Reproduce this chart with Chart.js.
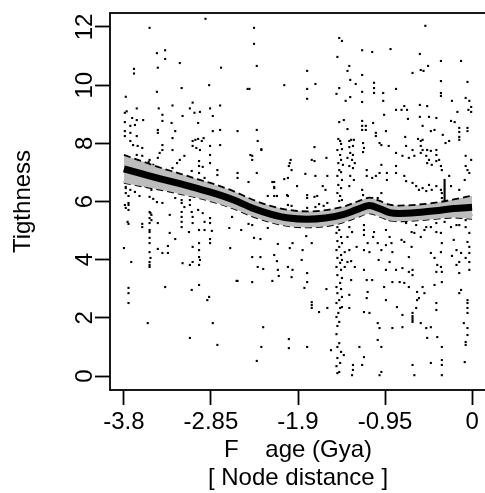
<!DOCTYPE html>
<html>
<head>
<meta charset="utf-8">
<script src="https://cdn.jsdelivr.net/npm/chart.js@4"></script>
<style>
  html, body { margin: 0; padding: 0; background: #fff; overflow: hidden; }
</style>
</head>
<body>
<canvas id="tightChart" width="490" height="493"></canvas>
<script>
// axis ranges (R style 4% padding) and ticks
const xRange = [-3.952, 0.152];
const yRange = [-0.48, 12.48];
const xTicks = [-3.8, -2.85, -1.9, -0.95, 0];
const xTickLabels = ["-3.8", "-2.85", "-1.9", "-0.95", "0"];
const yTicks = [0, 2, 4, 6, 8, 10, 12];

// smoothed fit and its confidence band
const smoothX = [-3.8, -3.6, -3.4, -3.2, -3.0, -2.8, -2.6, -2.4, -2.2, -2.0, -1.8, -1.6, -1.4, -1.25, -1.12, -1.0, -0.9, -0.8, -0.6, -0.4, -0.2, 0];
const smoothY = [7.12, 6.95, 6.78, 6.62, 6.45, 6.27, 6.05, 5.78, 5.57, 5.43, 5.39, 5.43, 5.56, 5.73, 5.86, 5.74, 5.62, 5.59, 5.62, 5.68, 5.76, 5.80];
const bandHigh = [7.60, 7.38, 7.16, 6.97, 6.77, 6.58, 6.35, 6.07, 5.85, 5.71, 5.66, 5.70, 5.83, 6.00, 6.13, 6.01, 5.89, 5.86, 5.89, 5.96, 6.07, 6.20];
const bandLow = [6.64, 6.52, 6.40, 6.27, 6.13, 5.96, 5.75, 5.49, 5.29, 5.15, 5.11, 5.15, 5.29, 5.46, 5.59, 5.47, 5.35, 5.32, 5.35, 5.40, 5.45, 5.40];

// scatter points [age, tightness]
const earlyPts = [
  [-2.91,12.28],[-3.52,11.97],[-3.44,11.10],[-3.35,11.20],[-3.35,10.90],[-3.69,10.56],[-3.69,10.40],[-3.43,10.60],
  [-3.19,10.76],[-2.74,10.60],[-2.87,10.00],[-3.17,9.90],[-3.44,9.77],[-3.78,9.60],[-3.05,9.40],[-2.75,9.30],
  [-3.27,9.30],[-3.42,9.20],[-3.66,9.20],[-3.77,9.10],[-3.79,9.05],[-3.08,9.20],[-2.97,9.08],[-2.86,9.20],
  [-3.38,8.98],[-3.16,8.94],[-3.03,9.05],[-2.83,8.94],[-3.71,8.87],[-3.66,8.80],[-3.59,8.80],[-3.79,8.73],
  [-3.38,8.77],[-3.28,8.70],[-2.99,8.70],[-3.73,8.60],[-3.68,8.63],[-3.43,8.46],[-3.43,8.36],[-3.24,8.42],
  [-2.75,8.46],[-2.83,8.42],[-3.79,8.42],[-3.73,8.36],[-3.79,8.25],[-3.66,8.25],[-3.27,8.18],[-3.05,8.08],
  [-3.02,8.12],[-2.99,8.15],[-2.95,8.08],[-2.93,8.18],[-3.73,8.08],[-3.70,7.94],[-3.65,7.91],[-3.60,7.84],
  [-3.38,7.94],[-3.38,7.77],[-3.05,7.91],[-3.01,7.84],[-2.97,7.77],[-2.86,7.91],[-2.75,7.94],[-3.27,7.77],
  [-3.41,7.67],[-3.66,7.60],[-3.60,7.57],[-3.52,7.43],[-3.43,7.50],[-3.19,7.43],[-3.14,7.57],[-3.22,7.32],
  [-2.98,7.39],[-2.98,7.22],[-2.94,7.19],[-2.86,7.60],[-2.86,7.32],[-2.78,7.08],[-2.78,6.91],[-3.53,7.36],
  [-3.48,7.26],[-3.06,7.05],[-2.98,6.98],[-2.92,6.81],[-3.35,7.08],[-3.27,7.15],[-3.79,6.67],[-3.73,6.70],
  [-3.59,6.70],[-3.78,6.46],[-3.73,6.40],[-3.68,6.33],[-3.57,6.53],[-3.50,6.40],[-2.97,6.64],[-2.86,6.57],
  [-3.75,6.19],[-3.63,6.19],[-3.52,6.16],[-3.48,6.09],[-3.24,6.12],[-3.17,6.05],[-3.08,6.05],[-3.78,6.50],
  [-3.78,6.29],[-3.75,5.95],[-3.78,5.78],[-3.76,5.30],[-3.79,5.88],[-3.75,5.88],[-3.75,5.71],[-3.75,5.23],
  [-3.80,4.40],[-3.72,3.92],[-3.75,3.03],[-3.75,2.85],[-3.75,2.51],[-3.60,5.23],[-3.60,5.12],[-3.52,5.64],
  [-3.51,5.60],[-3.50,5.54],[-3.52,5.43],[-3.50,5.36],[-3.52,5.26],[-3.52,5.02],[-3.52,4.95],[-3.52,4.75],
  [-3.52,4.57],[-3.52,4.26],[-3.51,4.06],[-3.52,3.92],[-3.52,3.82],[-3.52,3.75],[-3.54,1.82],[-3.44,5.98],
  [-3.38,5.95],[-3.43,5.26],[-3.43,4.37],[-3.38,4.23],[-3.32,4.23],[-3.32,4.47],[-3.30,5.54],[-3.30,4.92],
  [-3.24,4.71],[-3.35,3.06],[-3.17,5.95],[-3.17,5.64],[-3.17,5.47],[-3.17,5.30],[-3.17,5.12],[-3.14,5.81],
  [-3.08,5.88],[-3.06,5.64],[-3.05,5.47],[-3.05,5.26],[-3.16,3.88],[-3.08,3.82],[-3.05,3.92],[-3.09,4.95],
  [-3.05,4.44],[-3.06,2.96],[-3.08,1.31],[-2.99,5.71],[-2.94,5.60],[-2.98,5.02],[-2.98,4.57],[-2.98,4.33],
  [-2.98,4.09],[-2.97,3.99],[-2.98,3.82],[-2.98,3.13],[-2.92,5.30],[-2.86,5.43],[-2.86,5.26],[-2.92,5.02],
  [-2.84,4.99],[-2.86,4.71],[-2.86,4.57],[-2.87,2.72],[-2.89,2.61],[-2.83,1.82],[-2.78,1.07],[-2.62,5.47],
  [-2.65,5.09],[-2.64,4.40],[-2.57,3.27],[-2.56,8.42],[-2.56,6.98],[-2.56,6.81],[-2.52,5.02],[-2.56,3.27]
];
const midPts = [
  [-2.38,11.97],[-2.38,11.42],[-2.35,10.66],[-2.43,9.87],[-2.45,9.87],[-2.05,10.00],[-1.80,10.49],[-1.80,9.87],
  [-1.71,10.04],[-1.80,9.53],[-2.35,8.46],[-2.34,8.08],[-2.30,7.77],[-2.42,7.60],[-2.40,7.43],[-2.35,6.98],
  [-2.44,6.67],[-1.72,7.87],[-1.98,7.43],[-2.00,7.22],[-1.75,7.43],[-1.72,7.39],[-1.59,7.50],[-1.82,6.95],
  [-1.71,6.88],[-1.58,6.88],[-2.01,6.81],[-2.05,6.77],[-1.91,6.53],[-2.16,6.67],[-2.16,6.46],[-1.63,6.53],
  [-1.60,6.40],[-2.23,6.19],[-2.16,6.19],[-2.13,6.19],[-2.02,6.22],[-2.01,6.19],[-1.80,6.22],[-1.80,6.12],
  [-1.72,6.16],[-1.69,6.19],[-2.40,7.57],[-2.30,7.80],[-1.99,7.32],[-1.97,7.08],[-2.18,6.67],[-2.16,6.50],
  [-2.01,5.88],[-1.97,5.85],[-1.80,5.78],[-1.71,5.81],[-1.67,5.91],[-1.62,5.85],[-1.58,5.95],
  [-2.44,5.23],[-2.40,5.19],[-2.23,5.09],[-2.38,4.75],[-2.31,4.71],[-2.12,4.54],[-1.99,4.40],[-1.96,4.57],
  [-2.40,4.09],[-2.31,4.09],[-2.16,4.16],[-2.13,3.95],[-1.85,4.33],[-1.75,4.57],[-1.81,4.81],[-1.86,3.99],
  [-2.34,3.75],[-2.28,3.68],[-2.12,3.65],[-2.01,3.75],[-1.96,3.65],[-1.97,3.40],[-1.80,3.54],[-1.80,3.23],
  [-2.40,3.23],[-2.18,3.27],[-2.11,3.44],[-1.83,3.03],[-1.59,2.99],[-1.75,2.54],[-1.75,2.44],[-1.75,2.34],
  [-1.67,2.20],[-1.58,2.34],[-2.28,1.68],[-2.00,1.27],[-2.00,0.96],[-2.30,1.00],[-1.80,1.00],[-2.35,0.52]
];
const latePts = [
  [-1.45,11.62],[-1.42,11.52],[-1.47,10.97],[-1.34,10.66],[-1.36,10.49],[-1.33,10.18],[-1.27,10.04],[-1.45,9.90],
  [-1.48,9.70],[-1.33,9.59],[-1.38,9.46],[-1.45,8.73],[-1.40,8.80],[-1.36,8.49],[-1.46,8.15],[-1.44,8.08],
  [-1.43,7.98],[-1.47,7.77],[-1.42,7.80],[-1.44,7.60],[-1.43,7.43],[-1.46,7.32],[-1.41,7.26],[-1.45,7.08],
  [-1.43,7.01],[-1.47,6.88],[-1.42,6.74],[-1.46,6.57],[-1.43,6.46],[-1.47,6.29],[-1.44,6.19],[-1.42,6.05],
  [-1.45,6.02],[-1.34,8.08],[-1.32,8.12],[-1.29,8.12],[-1.34,7.87],[-1.30,7.91],[-1.33,7.67],[-1.30,7.60],
  [-1.36,7.50],[-1.31,7.43],[-1.28,7.32],[-1.34,7.22],[-1.30,7.15],[-1.33,6.88],[-1.29,6.74],[-1.34,6.53],
  [-1.47,5.12],[-1.45,5.02],[-1.48,4.92],[-1.43,4.78],[-1.47,4.64],[-1.42,4.57],[-1.45,4.44],[-1.48,4.33],
  [-1.39,4.26],[-1.43,4.16],[-1.47,4.06],[-1.42,3.99],[-1.44,3.89],[-1.48,3.75],[-1.39,3.75],[-1.43,3.65],
  [-1.47,3.47],[-1.42,3.37],[-1.44,3.20],[-1.48,3.06],[-1.43,2.99],[-1.47,2.85],[-1.42,2.72],[-1.45,2.61],
  [-1.48,2.51],[-1.44,2.34],[-1.42,2.37],[-1.46,2.17],[-1.48,2.03],[-1.45,1.86],[-1.47,1.72],[-1.48,1.44],
  [-1.45,1.13],[-1.47,1.00],[-1.54,0.89],[-1.43,0.83],[-1.40,0.72],[-1.47,0.62],[-1.44,0.45],[-1.48,0.34],
  [-1.45,0.14],[-1.47,0.10],[-1.34,5.12],[-1.31,4.95],[-1.36,4.78],[-1.26,4.44],[-1.34,4.33],[-1.32,3.95],
  [-1.36,3.92],[-1.28,3.75],[-1.32,3.30],[-1.34,2.79],[-1.34,2.34],[-1.30,0.38],[-1.30,0.21],[-1.31,0.03],
  [-0.51,12.04],[-1.09,11.14],[-0.89,11.24],[-0.57,11.07],[-1.20,11.20],[-1.20,10.35],[-0.65,10.42],[-0.56,10.52],
  [-0.53,10.49],[-0.48,10.66],[-0.34,10.83],[-0.12,10.83],[-1.07,10.08],[-1.07,9.90],[-1.07,9.73],[-0.97,9.73],
  [-0.83,9.87],[-0.34,10.14],[-0.34,9.73],[-0.34,9.63],[-0.05,10.11],[-1.20,9.77],[-1.20,9.42],[-0.97,9.46],
  [-0.74,9.28],[-0.83,9.15],[-0.77,9.15],[-0.71,9.15],[-0.57,9.32],[-0.49,9.28],[-0.22,9.46],[-0.07,9.56],
  [-0.03,9.46],[-0.01,9.25],[-0.04,9.15],[-0.01,9.08],[-0.16,9.08],[-0.96,8.98],[-0.70,8.84],[-0.57,8.91],
  [-0.47,8.91],[-0.39,8.87],[-0.23,8.77],[-0.19,8.73],[-1.20,8.77],[-1.20,8.60],[-1.20,8.46],[-1.16,8.60],
  [-1.16,8.46],[-1.08,8.70],[-1.05,8.36],[-1.05,8.25],[-0.94,8.42],[-0.54,8.60],[-0.45,8.42],[-0.41,8.46],
  [-0.14,8.53],[-0.14,8.39],[-0.05,8.53],[-0.05,8.42],[-0.32,8.29],[-0.14,8.22],[-0.14,8.12],[-0.73,8.22],
  [-0.59,8.15],[-0.56,8.08],[-0.54,8.12],[-0.25,8.08],[-0.29,8.01],[-1.01,8.01],[-0.99,7.94],[-0.91,7.91],
  [-1.19,8.01],[-1.18,7.84],[-1.19,7.70],[-0.56,7.91],[-0.54,7.77],[-0.56,7.67],[-0.49,7.77],[-0.45,7.74],
  [-0.39,7.77],[-0.39,7.60],[-0.72,7.91],[-0.65,7.77],[-0.63,7.57],[-0.69,7.50],[-0.83,7.67],[-0.76,7.57],
  [-0.50,7.57],[-0.47,7.43],[-0.49,7.32],[-0.44,7.26],[-0.39,7.39],[-0.36,7.43],[-0.34,7.22],[-0.33,7.08],
  [-0.07,7.57],[-0.07,7.22],[-0.05,7.08],[-0.03,6.98],[-0.01,7.43],[-0.08,6.74],[-1.15,7.08],[-1.15,6.88],
  [-1.09,6.81],[-1.05,6.88],[-1.01,6.98],[-0.99,7.26],[-0.93,6.98],[-0.93,6.74],[-0.83,7.22],[-0.83,6.98],
  [-0.74,6.88],[-0.72,6.70],[-0.65,6.64],[-0.61,6.53],[-0.58,6.40],[-0.54,6.46],[-0.50,6.36],[-0.47,6.57],
  [-0.44,6.40],[-0.39,6.53],[-0.34,6.40],[-0.33,6.29],[-0.33,6.12],[-0.25,6.88],[-0.23,6.53],[-0.14,6.40],
  [-1.20,6.40],[-1.19,6.22],[-1.09,6.12],[-1.03,6.12],[-0.99,6.29],
  [-0.30,6.74],[-0.30,6.67],[-0.30,6.60],[-0.30,6.53],[-0.30,6.46],[-0.30,6.40],[-0.30,6.33],[-0.30,6.26],
  [-0.30,6.19],[-0.30,6.12],[-0.30,6.05],[-0.30,5.98],
  [-1.18,5.19],[-1.18,5.02],[-1.18,4.85],[-1.14,4.57],[-1.18,4.33],[-1.12,4.26],[-1.07,4.95],[-1.08,4.78],
  [-1.03,4.57],[-0.99,4.33],[-1.02,3.99],[-1.18,3.65],[-1.15,3.30],[-1.09,3.30],[-1.14,2.89],[-1.15,2.68],
  [-1.18,2.20],[-1.12,2.17],[-1.03,1.82],[-1.01,1.65],[-1.03,1.24],[-0.99,1.00],[-1.18,0.65],[-1.20,0.38],
  [-0.99,0.14],[-1.01,0.03],[-1.23,1.00],[-0.94,5.02],[-0.90,4.78],[-0.94,4.50],[-0.88,4.57],[-0.87,4.26],
  [-0.90,3.92],[-0.94,3.65],[-0.87,3.23],[-0.96,3.06],[-0.94,2.61],[-0.87,1.65],[-0.76,1.68],[-0.76,2.10],
  [-0.82,2.37],[-0.83,3.65],[-0.76,3.71],[-0.77,4.68],[-0.74,4.61],[-0.79,3.23],[-0.74,3.20],[-0.66,4.95],
  [-0.63,4.92],[-0.66,4.44],[-0.69,4.09],[-0.65,3.65],[-0.69,3.58],[-0.65,3.47],[-0.69,3.06],[-0.60,2.89],
  [-0.54,3.06],[-0.60,2.61],[-0.65,2.17],[-0.65,2.06],[-0.65,1.99],[-0.65,1.92],[-0.65,1.86],[-0.61,2.34],
  [-0.56,1.82],[-0.50,1.65],[-0.45,1.68],[-0.49,1.31],[-0.65,0.38],[-0.63,0.03],[-0.58,2.68],[-0.52,2.85],
  [-0.56,4.78],[-0.52,5.02],[-0.45,5.12],[-0.39,4.95],[-0.34,4.92],[-0.33,4.57],[-0.34,4.26],[-0.45,4.23],
  [-0.41,4.06],[-0.38,3.82],[-0.34,3.75],[-0.33,3.58],[-0.39,3.58],[-0.33,3.23],[-0.41,3.13],[-0.39,2.51],
  [-0.39,2.27],[-0.33,1.00],[-0.33,0.55],[-0.33,0.38],[-0.38,1.34],[-0.45,0.45],[-0.33,0.03],[-0.14,5.19],
  [-0.07,5.12],[-0.03,4.92],[-0.05,4.61],[-0.03,4.44],[-0.03,4.23],[-0.07,4.06],[-0.12,4.23],[-0.14,3.92],
  [-0.03,3.65],[-0.12,2.96],[-0.14,2.85],[-0.05,2.61],[-0.05,2.51],[-0.05,2.34],[-0.05,2.17],[-0.09,1.82],
  [-0.05,1.65],[-0.05,1.41],[-0.07,1.17],[-0.07,1.07],[-0.08,0.48],[-0.03,3.92],[-0.23,5.12],[-0.20,4.68],
  [-0.17,4.33],[-0.22,4.13],[-0.17,3.82],[-0.14,3.54],
  [-0.90,5.36],[-0.82,5.43],[-0.72,5.26],[-0.61,5.19],[-0.50,5.12],[-0.39,5.26],[-0.30,5.30],[-0.17,5.19],
  [-0.07,5.36],[-0.01,5.54]
];

const toXY = (pairs) => pairs.map(([x, y]) => ({ x, y }));
const curve = (ys) => smoothX.map((x, i) => ({ x, y: ys[i] }));

const FONT = "'Liberation Sans', Arial, Helvetica, sans-serif";

// frame around the plot region + rotated y tick labels
const framePlugin = {
  id: "frame",
  afterDraw(chart) {
    const { ctx, chartArea: a, scales } = chart;
    ctx.save();
    ctx.strokeStyle = "#000";
    ctx.lineWidth = 1.8;
    ctx.strokeRect(a.left, a.top, a.right - a.left, a.bottom - a.top);

    const y = scales.y;
    ctx.fillStyle = "#000";
    ctx.font = "24px " + FONT;
    ctx.textAlign = "center";
    ctx.textBaseline = "middle";
    const labelX = a.left - 15 - 11;
    yTicks.forEach((v) => {
      ctx.save();
      ctx.translate(labelX, y.getPixelForValue(v));
      ctx.rotate(-Math.PI / 2);
      ctx.fillText(String(v), 0, 1);
      ctx.restore();
    });
    ctx.restore();
  },
};

function createTightnessChart() {
  const canvas = document.getElementById("tightChart");
  const ctx = canvas.getContext("2d");

  new Chart(ctx, {
    type: "scatter",
    data: {
      datasets: [
        {
          // fitted curve, on top
          type: "line",
          data: curve(smoothY),
          borderColor: "#000",
          borderWidth: 7,
          pointRadius: 0,
          cubicInterpolationMode: "monotone",
          fill: false,
          showLine: true,
        },
        {
          type: "line",
          data: curve(bandHigh),
          borderColor: "#000",
          borderWidth: 1.8,
          borderDash: [7, 4],
          pointRadius: 0,
          cubicInterpolationMode: "monotone",
          backgroundColor: "#bdbdbd",
          fill: "+1",
          showLine: true,
        },
        {
          type: "line",
          data: curve(bandLow),
          borderColor: "#000",
          borderWidth: 1.8,
          borderDash: [7, 4],
          pointRadius: 0,
          cubicInterpolationMode: "monotone",
          fill: false,
          showLine: true,
        },
        {
          data: toXY(earlyPts.concat(midPts, latePts)),
          pointStyle: "rect",
          pointRadius: 1.5,
          pointBorderWidth: 0,
          backgroundColor: "#000",
          borderColor: "#000",
        },
      ],
    },
    options: {
      responsive: false,
      animation: false,
      events: [],
      layout: { padding: { top: 13, right: 3, left: 0, bottom: 0 } },
      plugins: {
        legend: { display: false },
        tooltip: { enabled: false },
      },
      scales: {
        x: {
          type: "linear",
          min: xRange[0],
          max: xRange[1],
          afterBuildTicks: (s) => { s.ticks = xTicks.map((v) => ({ value: v })); },
          afterFit: (s) => { s.height = 103; },
          border: { display: false },
          grid: {
            drawOnChartArea: false,
            drawTicks: true,
            tickLength: 15,
            tickWidth: 1.8,
            tickColor: "#000",
          },
          ticks: {
            color: "#000",
            font: { family: FONT, size: 24 },
            padding: 3,
            maxRotation: 0,
            autoSkip: false,
            callback: (v) => xTickLabels[xTicks.indexOf(v)],
          },
          title: {
            display: true,
            text: ["F    age (Gya)", "[ Node distance ]"],
            color: "#000",
            font: { family: FONT, size: 24, lineHeight: "28px" },
            padding: { top: 0, bottom: 1 },
          },
        },
        y: {
          type: "linear",
          min: yRange[0],
          max: yRange[1],
          afterBuildTicks: (s) => { s.ticks = yTicks.map((v) => ({ value: v })); },
          afterFit: (s) => { s.width = 110; },
          border: { display: false },
          grid: {
            drawOnChartArea: false,
            drawTicks: true,
            tickLength: 15,
            tickWidth: 1.8,
            tickColor: "#000",
          },
          ticks: { display: false },
          title: {
            display: true,
            text: "Tigthness",
            color: "#000",
            font: { family: FONT, size: 24, lineHeight: "28px" },
            padding: { top: 9, bottom: 0 },
          },
        },
      },
    },
    plugins: [framePlugin],
  });
}

createTightnessChart();
</script>
</body>
</html>
